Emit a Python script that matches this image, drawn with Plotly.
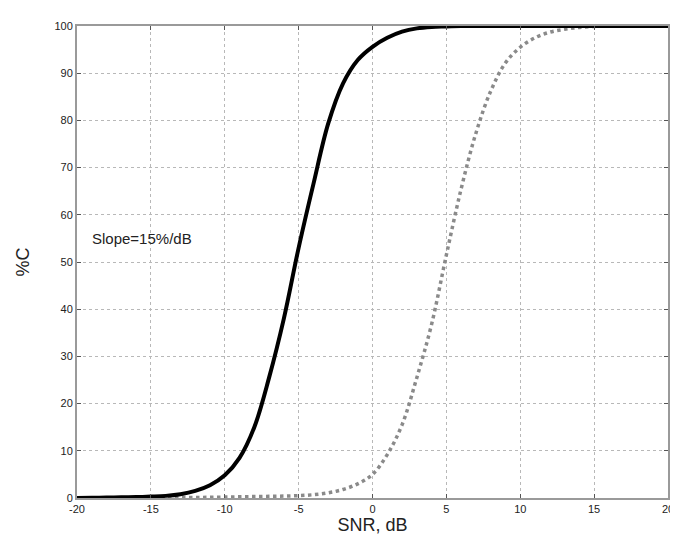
import plotly.graph_objects as go

# SNR values (dB)
snr = [-20, -19, -18, -17, -16, -15, -14, -13, -12, -11, -10, -9, -8, -7, -6, -5,
       -4, -3, -2, -1, 0, 1, 2, 3, 4, 5, 6, 7, 8, 9, 10, 11, 12, 13, 14, 15,
       16, 17, 18, 19, 20]

# Percent correct, solid black curve
pc_black = [0.0, 0.05, 0.1, 0.15, 0.2, 0.3, 0.45, 0.8, 1.5, 2.7, 4.8, 8.5, 15.0, 25.5,
            38.0, 53.0, 66.5, 79.3, 87.8, 92.8, 95.6, 97.5, 98.8, 99.5, 99.8, 99.9,
            100, 100, 100, 100, 100, 100, 100, 100, 100, 100, 100, 100, 100, 100, 100]

# Percent correct, dotted gray curve
pc_gray = [0.0, 0.0, 0.0, 0.0, 0.0, 0.05, 0.05, 0.1, 0.1, 0.15, 0.2, 0.25, 0.3, 0.35,
           0.4, 0.5, 0.7, 1.1, 1.8, 3.0, 5.0, 9.2, 15.5, 25.5, 36.8, 51.5, 65.5, 77.3,
           86.2, 92.2, 95.5, 97.5, 98.7, 99.3, 99.7, 99.9, 100, 100, 100, 100, 100]

x_ticks = [-20, -15, -10, -5, 0, 5, 10, 15, 20]
y_ticks = [0, 10, 20, 30, 40, 50, 60, 70, 80, 90, 100]

annotation_text = "Slope=15%/dB"

fig = go.Figure()
fig.add_trace(go.Scatter(x=snr, y=pc_gray, mode="lines",
                         line=dict(color="#8a8a8a", width=3.5, dash="dot", shape="spline"),
                         showlegend=False))
fig.add_trace(go.Scatter(x=snr, y=pc_black, mode="lines",
                         line=dict(color="black", width=4, shape="spline"),
                         showlegend=False))

axis_common = dict(
    showgrid=True, gridcolor="#b8b8b8", griddash="dot", gridwidth=1,
    showline=True, linecolor="#9a9a9a", linewidth=2, mirror="ticks",
    ticks="inside", ticklen=4, tickcolor="#555555",
    zeroline=False,
    tickfont=dict(family="Liberation Sans, Arial", size=11, color="#222222"),
)

fig.update_xaxes(range=[-20, 20], tickvals=x_ticks, ticktext=[str(v) for v in x_ticks],
                 title=dict(text="SNR, dB", font=dict(family="Liberation Sans, Arial", size=18, color="#222222"),
                            standoff=2),
                 **axis_common)
fig.update_yaxes(range=[0, 100], tickvals=y_ticks, ticktext=[str(v) for v in y_ticks],
                 title=dict(text="%C", font=dict(family="Liberation Sans, Arial", size=18, color="#222222"),
                            standoff=20),
                 **axis_common)

fig.add_annotation(x=-19.1, y=55, text=annotation_text, showarrow=False,
                   xanchor="left", yanchor="middle",
                   font=dict(family="Liberation Sans, Arial", size=15, color="#222222"))

fig.update_layout(
    width=678, height=540,
    margin=dict(l=69, r=16, t=18, b=50),
    plot_bgcolor="white", paper_bgcolor="white",
)

fig.write_html("out.html")
